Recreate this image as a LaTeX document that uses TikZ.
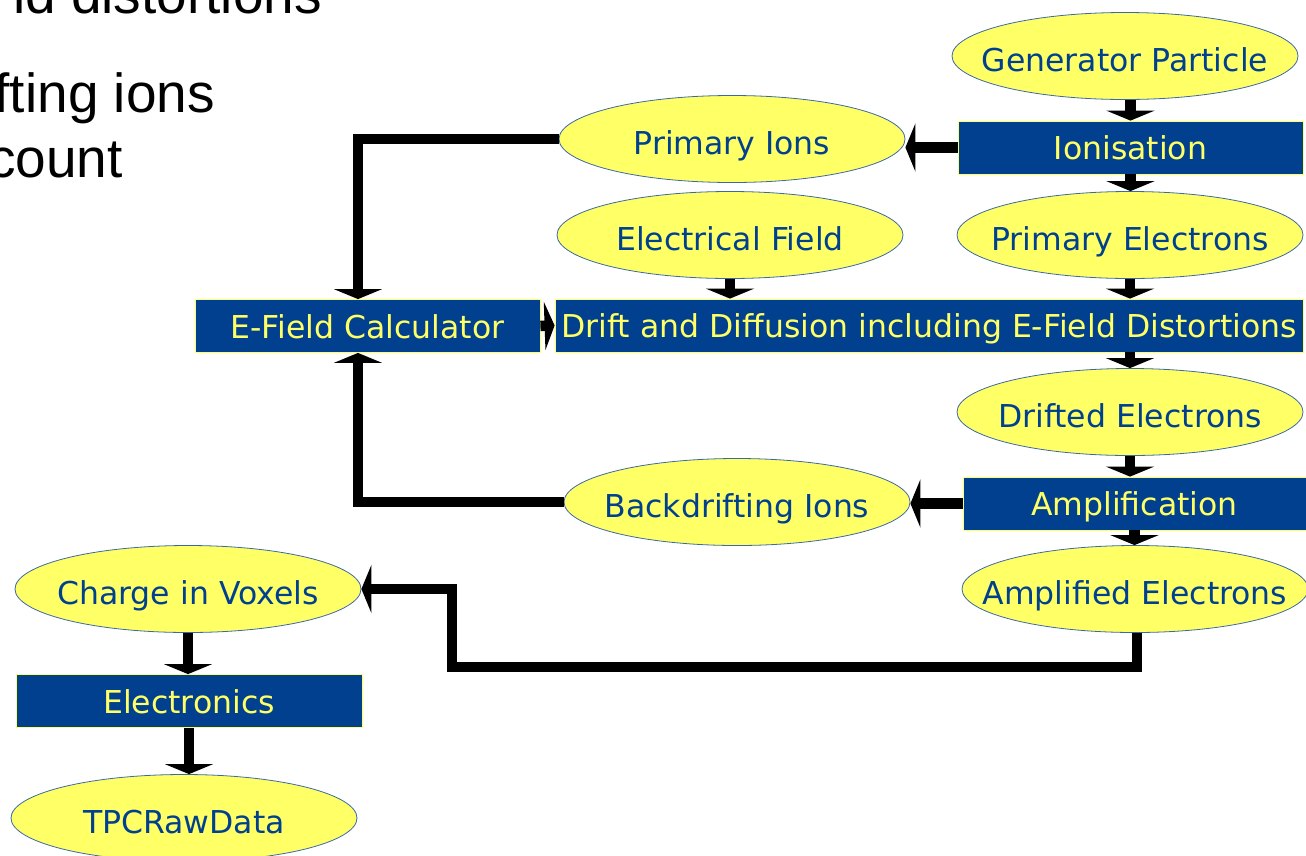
\documentclass[tikz,border=0pt]{standalone}
\usepackage{fontspec}
\setmainfont{DejaVu Sans}
\newfontfamily\slidefont{Liberation Sans}
\usepackage{tikz}
\usetikzlibrary{shapes.geometric}
\usetikzlibrary{arrows.meta}

\definecolor{boxblue}{RGB}{0,64,143}
\definecolor{blobyellow}{RGB}{255,255,102}
\definecolor{rimblue}{RGB}{60,105,165}
\newcommand{\blobtext}[1]{\makebox[0pt]{#1}}

\tikzset{
  blob/.style={ellipse,draw=rimblue,line width=0.8pt,fill=blobyellow,text=boxblue,
    minimum width=346pt,minimum height=87pt,inner sep=0pt,text height=31pt,text depth=0pt,
    font=\fontsize{31.5}{36}\selectfont},
  stage/.style={rectangle,draw=blobyellow,line width=0.8pt,fill=boxblue,text=blobyellow,
    minimum height=53pt,inner sep=0pt,text height=24pt,text depth=0pt,
    font=\fontsize{31.5}{36}\selectfont},
  flow/.style={line width=10.5pt,-{Triangle[width=48pt,length=10pt]}},
  slide/.style={anchor=base east,inner sep=0pt,font=\slidefont\fontsize{55}{60}\selectfont}
}

\begin{document}
\begin{tikzpicture}[x=1pt,y=-1pt]
  \useasboundingbox (0,0) rectangle (1306,855);
  \clip (0,0) rectangle (1306,855);

  %slide text behind the chart
  \node[slide] (frag1) at (322,13) {ld distortions};
  \node[slide] (frag2) at (215,112) {fting ions};
  \node[slide] (frag3) at (123,177) {count};

  %nodes
  \node[blob] (gen) at (1125,56) {\blobtext{Generator Particle}};
  \node[stage,minimum width=345pt] (ion) at (1130.5,147.5) {Ionisation};
  \node[blob] (pions) at (732,139) {\blobtext{Primary Ions}};
  \node[blob] (efield) at (730,235) {\blobtext{Electrical Field}};
  \node[blob] (pelec) at (1130,235) {\blobtext{Primary Electrons}};
  \node[stage,minimum width=345pt] (efc) at (367.5,326) {E-Field Calculator};
  \node[stage,minimum width=748pt] (drift) at (929,325.5) {Drift and Diffusion including E-Field Distortions};
  \node[blob] (delec) at (1130,412) {\blobtext{Drifted Electrons}};
  \node[stage,minimum width=343pt] (amp) at (1134.5,503.5) {Amplification};
  \node[blob] (bions) at (737,502) {\blobtext{Backdrifting Ions}};
  \node[blob] (aelec) at (1135,589) {\blobtext{Amplified Electrons}};
  \node[blob] (voxel) at (188,589) {\blobtext{Charge in Voxels}};
  \node[stage,minimum width=346pt] (elec) at (189,701) {Electronics};
  \node[blob] (raw) at (184,818) {\blobtext{TPCRawData}};

  %main chain
  \draw[flow] (ion.north |- gen.south) -- (ion.north);
  \draw[flow] (ion.south) -- (ion.south |- pelec.north);
  \draw[flow] (pelec.south) -- (pelec.south |- drift.north);
  \draw[flow] (efield.south) -- (efield.south |- drift.north);
  \draw[flow] (drift.south -| delec) -- (delec.north);
  \draw[flow] (delec.south) -- (delec.south |- amp.north);
  \draw[flow] (amp.south) -- (amp.south |- aelec.north);
  \draw[flow] (ion.west) -- (ion.west -| pions.east);
  \draw[flow] (amp.west) -- (amp.west -| bions.east);
  \draw[flow] (efc.east) -- (drift.west);

  %ion feedback
  \coordinate (efcin) at ([xshift=-9.5pt]efc.north);
  \coordinate (efcback) at ([xshift=-9.5pt]efc.south);
  \draw[flow] (pions.west) -| (efcin);
  \draw[flow] (bions.west) -| (efcback);

  %readout
  \coordinate (turnlow) at (452,667);
  \draw[flow] ([xshift=2pt]aelec.south) |- (turnlow) |- (voxel.east);
  \draw[flow] (voxel.south) -- (voxel.south |- elec.north);
  \draw[flow] (elec.south) -- (elec.south |- raw.north);
\end{tikzpicture}
\end{document}
